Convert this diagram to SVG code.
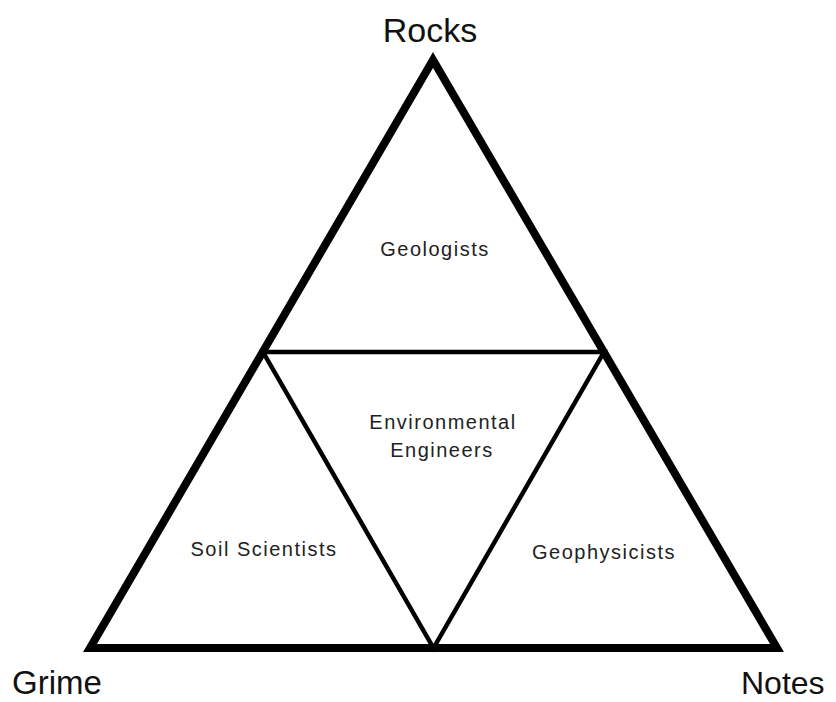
<svg xmlns="http://www.w3.org/2000/svg" width="836" height="702" viewBox="0 0 836 702">
<style>
.outer{fill:none;stroke:#000;stroke-width:8;stroke-linejoin:miter;stroke-miterlimit:10}
.inner{fill:none;stroke:#000;stroke-width:4.5;stroke-linejoin:miter}
.big{font-family:"Liberation Sans",Arial,sans-serif;font-size:33px;fill:#111}
.lbl{font-family:"Liberation Sans",Arial,sans-serif;font-size:20px;letter-spacing:1.5px;fill:#222;text-anchor:middle}
</style>
<rect width="836" height="702" fill="#fff"/>
<g id="connectors">
<polygon class="outer" points="433,60 90,648 777,648"/>
<polygon class="inner" points="263,352 604,352 433.5,648"/>
</g>
<g id="rocks"><text class="big" x="430" y="42" text-anchor="middle" style="font-size:34px">Rocks</text></g>
<g id="grime"><text class="big" x="12" y="694">Grime</text></g>
<g id="notes"><text class="big" x="741" y="694" style="font-size:32px">Notes</text></g>
<g id="geologists"><text class="lbl" x="435" y="256">Geologists</text></g>
<g id="environmental-engineers"><text class="lbl" x="443" y="429">Environmental</text><text class="lbl" x="442" y="457">Engineers</text></g>
<g id="soil-scientists"><text class="lbl" x="264" y="556">Soil Scientists</text></g>
<g id="geophysicists"><text class="lbl" x="604" y="559">Geophysicists</text></g>
</svg>
